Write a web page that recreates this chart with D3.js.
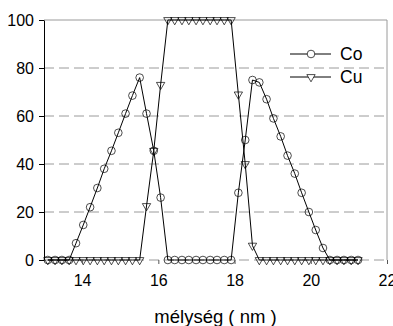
<!DOCTYPE html>
<html>
<head>
<meta charset="utf-8">
<script src="https://cdn.jsdelivr.net/npm/d3@7"></script>
<style>
  body { margin: 0; background: #fff; }
  svg { display: block; font-family: "Liberation Sans", Arial, sans-serif; }
</style>
</head>
<body>
<svg id="chart" width="393" height="326"></svg>
<script>
const depth = [13.10, 13.29, 13.47, 13.66, 13.84, 14.03, 14.21, 14.40, 14.58, 14.77,
               14.95, 15.14, 15.32, 15.51, 15.69, 15.88, 16.06, 16.25, 16.43, 16.62,
               16.80, 16.99, 17.17, 17.36, 17.54, 17.73, 17.91, 18.10, 18.28, 18.47,
               18.65, 18.84, 19.02, 19.21, 19.39, 19.58, 19.76, 19.95, 20.13, 20.32,
               20.50, 20.69, 20.87, 21.06, 21.24];
const co = [0, 0, 0, 0, 7, 14.6, 22, 30, 38, 45.5,
            53, 61, 68.5, 76, 61, 45.5, 26, 0, 0, 0,
            0, 0, 0, 0, 0, 0, 0, 28, 50, 75,
            74, 67, 59, 51.5, 43.5, 36, 28, 20, 12.5, 5,
            0, 0, 0, 0, 0];
const cu = [0, 0, 0, 0, 0, 0, 0, 0, 0, 0,
            0, 0, 0, 0, 22.5, 45.5, 73, 100, 100, 100,
            100, 100, 100, 100, 100, 100, 100, 69, 40, 6,
            0, 0, 0, 0, 0, 0, 0, 0, 0, 0,
            0, 0, 0, 0, 0];
const seriesNames = ["Co", "Cu"];
const xTicks = [14, 16, 18, 20, 22];
const yTicks = [0, 20, 40, 60, 80, 100];
const xTitle = "mélység ( nm )";

const svg = d3.select("#chart");
const m = { left: 44, right: 387, top: 20, bottom: 260 };

const x = d3.scaleLinear().domain([13, 22]).range([m.left, m.right]);
const y = d3.scaleLinear().domain([0, 100]).range([m.bottom, m.top]);

// dashed grid lines
svg.append("g")
  .selectAll("line")
  .data(yTicks.filter(v => v < 100))
  .join("line")
  .attr("x1", m.left).attr("x2", m.right)
  .attr("y1", d => y(d)).attr("y2", d => y(d))
  .attr("stroke", "#9a9a9a")
  .attr("stroke-width", 1)
  .attr("stroke-dasharray", "10,5");

// top and right frame
svg.append("path")
  .attr("d", `M${m.left},${y(100)}H${m.right}V${m.bottom}`)
  .attr("fill", "none")
  .attr("stroke", "#9a9a9a")
  .attr("stroke-width", 1);

const points = depth.map((d, i) => ({ x: d, co: co[i], cu: cu[i] }));
const line = key => d3.line().x(d => x(d.x)).y(d => y(d[key]));

const circle = d3.symbol(d3.symbolCircle, 46);
const tri = d3.symbol(d3.symbolTriangle, 30);

["co", "cu"].forEach(key => {
  svg.append("path")
    .datum(points)
    .attr("d", line(key))
    .attr("fill", "none")
    .attr("stroke", "#000")
    .attr("stroke-width", 1);
});

svg.append("g")
  .selectAll("path")
  .data(points)
  .join("path")
  .attr("d", tri)
  .attr("transform", d => `translate(${x(d.x)},${y(d.cu)}) rotate(180)`)
  .attr("fill", "none")
  .attr("stroke", "#000")
  .attr("stroke-width", 0.7);

svg.append("g")
  .selectAll("path")
  .data(points)
  .join("path")
  .attr("d", circle)
  .attr("transform", d => `translate(${x(d.x)},${y(d.co)})`)
  .attr("fill", "none")
  .attr("stroke", "#000")
  .attr("stroke-width", 0.7);

// axes
const yAxis = svg.append("g")
  .attr("transform", `translate(${m.left},0)`)
  .call(d3.axisLeft(y).tickValues(yTicks).tickSize(5).tickSizeOuter(0).tickPadding(5));
yAxis.select(".domain").attr("stroke", "#000");
yAxis.selectAll("text").attr("font-size", 16).attr("fill", "#000").attr("font-family", null);

const xAxis = svg.append("g")
  .attr("transform", `translate(0,${m.bottom})`)
  .call(d3.axisBottom(x).tickValues(xTicks).tickSize(4).tickSizeOuter(0).tickPadding(11));
xAxis.select(".domain").remove();
xAxis.selectAll(".tick line").attr("stroke", "#555");
xAxis.selectAll("text").attr("font-size", 16).attr("fill", "#000").attr("font-family", null);

svg.append("text")
  .attr("x", (m.left + m.right) / 2)
  .attr("y", 323)
  .attr("text-anchor", "middle")
  .attr("font-size", 18.5)
  .text(xTitle);

// legend
const legend = svg.append("g");
seriesNames.forEach((name, i) => {
  const ly = 54 + i * 23;
  legend.append("line")
    .attr("x1", 290).attr("x2", 331)
    .attr("y1", ly).attr("y2", ly)
    .attr("stroke", "#000");
  legend.append("path")
    .attr("d", i === 0 ? circle : tri)
    .attr("transform", `translate(311,${ly})` + (i === 1 ? " rotate(180)" : ""))
    .attr("fill", "#fff")
    .attr("stroke", "#000")
    .attr("stroke-width", 0.7);
  legend.append("text")
    .attr("x", 340)
    .attr("y", ly + 6)
    .attr("font-size", 17.5)
    .text(name);
});
</script>
</body>
</html>
